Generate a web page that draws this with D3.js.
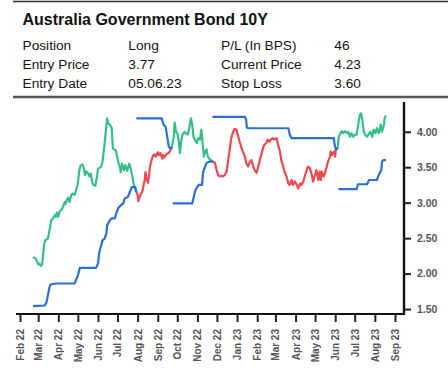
<!DOCTYPE html>
<html>
<head>
<meta charset="utf-8">
<script src="https://cdn.jsdelivr.net/npm/d3@7"></script>
<style>
  html, body { margin: 0; padding: 0; background: #fff; }
  svg { display: block; font-family: "Liberation Sans", Arial, Helvetica, sans-serif; }
</style>
</head>
<body>
<svg id="chart" width="448" height="375"></svg>
<script>
// ---- Data ----------------------------------------------------------------
const chartTitle = "Australia Government Bond 10Y";

const tableRows = [
  ["Position", "Long", "P/L (In BPS)", "46"],
  ["Entry Price", "3.77", "Current Price", "4.23"],
  ["Entry Date", "05.06.23", "Stop Loss", "3.60"]
];

// Position taken from each date onward
const positionChanges = [
  ["2022-02-21", "Long"],
  ["2022-07-30", "Short"],
  ["2022-09-23", "Long"],
  ["2022-11-25", "Short"],
  ["2023-06-05", "Long"]
];

// 10Y yield (%)
const yieldHistory = [
  ["2022-02-21", 2.23], ["2022-02-24", 2.22], ["2022-02-26", 2.20], ["2022-03-01", 2.13],
  ["2022-03-03", 2.14], ["2022-03-05", 2.11], ["2022-03-07", 2.13], ["2022-03-09", 2.30],
  ["2022-03-10", 2.41], ["2022-03-12", 2.47], ["2022-03-15", 2.49], ["2022-03-16", 2.50],
  ["2022-03-19", 2.64], ["2022-03-21", 2.75], ["2022-03-24", 2.78], ["2022-03-27", 2.83],
  ["2022-03-28", 2.80], ["2022-03-30", 2.86], ["2022-04-01", 2.80], ["2022-04-03", 2.88],
  ["2022-04-06", 2.90], ["2022-04-08", 2.94], ["2022-04-11", 3.01], ["2022-04-12", 2.98],
  ["2022-04-14", 3.04], ["2022-04-16", 3.07], ["2022-04-18", 3.01], ["2022-04-21", 3.11],
  ["2022-04-23", 3.13], ["2022-04-26", 3.11], ["2022-04-29", 3.20], ["2022-05-01", 3.27],
  ["2022-05-03", 3.44], ["2022-05-05", 3.52], ["2022-05-08", 3.54], ["2022-05-10", 3.49],
  ["2022-05-12", 3.39], ["2022-05-14", 3.44], ["2022-05-17", 3.41], ["2022-05-19", 3.37],
  ["2022-05-21", 3.41], ["2022-05-23", 3.29], ["2022-05-25", 3.25], ["2022-05-28", 3.24],
  ["2022-05-30", 3.34], ["2022-06-01", 3.48], ["2022-06-03", 3.49], ["2022-06-06", 3.51],
  ["2022-06-08", 3.58], ["2022-06-11", 3.82], ["2022-06-13", 4.00], ["2022-06-15", 4.19],
  ["2022-06-17", 4.12], ["2022-06-19", 4.10], ["2022-06-22", 4.06], ["2022-06-24", 3.76],
  ["2022-06-27", 3.75], ["2022-06-29", 3.72], ["2022-07-02", 3.58], ["2022-07-05", 3.49],
  ["2022-07-06", 3.43], ["2022-07-08", 3.55], ["2022-07-11", 3.46], ["2022-07-13", 3.53],
  ["2022-07-16", 3.45], ["2022-07-19", 3.55], ["2022-07-21", 3.49], ["2022-07-24", 3.37],
  ["2022-07-26", 3.25], ["2022-07-28", 3.22], ["2022-07-30", 3.15],
  ["2022-08-01", 3.11], ["2022-08-02", 3.02], ["2022-08-04", 3.08], ["2022-08-06", 3.12],
  ["2022-08-08", 3.15], ["2022-08-10", 3.24], ["2022-08-12", 3.32], ["2022-08-13", 3.43],
  ["2022-08-15", 3.32], ["2022-08-17", 3.28], ["2022-08-19", 3.42], ["2022-08-20", 3.51],
  ["2022-08-23", 3.62], ["2022-08-25", 3.67], ["2022-08-27", 3.68], ["2022-08-29", 3.65],
  ["2022-09-01", 3.71], ["2022-09-03", 3.67], ["2022-09-05", 3.70], ["2022-09-08", 3.62],
  ["2022-09-09", 3.67], ["2022-09-11", 3.64], ["2022-09-13", 3.67], ["2022-09-15", 3.69],
  ["2022-09-18", 3.70], ["2022-09-21", 3.75], ["2022-09-23", 3.79],
  ["2022-09-26", 3.96], ["2022-09-27", 4.13], ["2022-09-29", 4.00], ["2022-10-01", 3.98],
  ["2022-10-03", 3.89], ["2022-10-05", 3.70], ["2022-10-07", 3.86], ["2022-10-09", 3.96],
  ["2022-10-12", 4.00], ["2022-10-14", 3.98], ["2022-10-17", 3.96], ["2022-10-19", 4.03],
  ["2022-10-22", 4.19], ["2022-10-24", 4.10], ["2022-10-26", 3.93], ["2022-10-28", 3.89],
  ["2022-10-31", 3.84], ["2022-11-02", 3.91], ["2022-11-05", 3.89], ["2022-11-07", 4.03],
  ["2022-11-09", 3.84], ["2022-11-11", 3.65], ["2022-11-13", 3.72], ["2022-11-15", 3.75],
  ["2022-11-17", 3.65], ["2022-11-20", 3.61], ["2022-11-22", 3.60], ["2022-11-25", 3.58],
  ["2022-11-28", 3.56], ["2022-12-01", 3.44], ["2022-12-03", 3.39], ["2022-12-05", 3.37],
  ["2022-12-08", 3.38], ["2022-12-10", 3.37], ["2022-12-13", 3.39], ["2022-12-16", 3.44],
  ["2022-12-18", 3.58], ["2022-12-21", 3.77], ["2022-12-23", 3.91], ["2022-12-26", 4.00],
  ["2022-12-28", 4.04], ["2022-12-31", 4.03], ["2023-01-02", 3.96], ["2023-01-05", 3.86],
  ["2023-01-08", 3.77], ["2023-01-10", 3.72], ["2023-01-13", 3.65], ["2023-01-15", 3.56],
  ["2023-01-18", 3.51], ["2023-01-20", 3.56], ["2023-01-23", 3.60], ["2023-01-26", 3.51],
  ["2023-01-28", 3.46], ["2023-01-31", 3.42], ["2023-02-02", 3.49], ["2023-02-05", 3.60],
  ["2023-02-07", 3.67], ["2023-02-10", 3.77], ["2023-02-12", 3.82], ["2023-02-15", 3.84],
  ["2023-02-17", 3.89], ["2023-02-20", 3.86], ["2023-02-22", 3.89], ["2023-02-25", 3.91],
  ["2023-02-27", 3.89], ["2023-03-03", 3.91], ["2023-03-05", 3.82], ["2023-03-08", 3.72],
  ["2023-03-10", 3.60], ["2023-03-13", 3.51], ["2023-03-15", 3.44], ["2023-03-18", 3.37],
  ["2023-03-21", 3.27], ["2023-03-23", 3.25], ["2023-03-26", 3.32], ["2023-03-28", 3.25],
  ["2023-03-31", 3.30], ["2023-04-03", 3.25], ["2023-04-05", 3.20], ["2023-04-08", 3.27],
  ["2023-04-10", 3.25], ["2023-04-13", 3.30], ["2023-04-15", 3.37], ["2023-04-18", 3.46],
  ["2023-04-20", 3.51], ["2023-04-23", 3.49], ["2023-04-26", 3.39], ["2023-04-28", 3.30],
  ["2023-05-01", 3.39], ["2023-05-03", 3.46], ["2023-05-06", 3.32], ["2023-05-08", 3.44],
  ["2023-05-10", 3.32], ["2023-05-11", 3.44], ["2023-05-14", 3.37], ["2023-05-16", 3.41],
  ["2023-05-19", 3.51], ["2023-05-21", 3.58], ["2023-05-24", 3.65], ["2023-05-25", 3.72],
  ["2023-05-27", 3.67], ["2023-05-30", 3.72], ["2023-06-01", 3.65], ["2023-06-02", 3.75],
  ["2023-06-05", 3.77],
  ["2023-06-06", 3.91], ["2023-06-08", 3.96], ["2023-06-11", 4.01], ["2023-06-13", 3.98],
  ["2023-06-16", 4.01], ["2023-06-19", 3.98], ["2023-06-21", 4.00], ["2023-06-24", 3.93],
  ["2023-06-26", 3.98], ["2023-06-29", 3.93], ["2023-07-01", 3.96], ["2023-07-04", 3.96],
  ["2023-07-06", 4.08], ["2023-07-09", 4.24], ["2023-07-11", 4.26], ["2023-07-13", 4.15],
  ["2023-07-15", 4.00], ["2023-07-17", 3.96], ["2023-07-20", 3.93], ["2023-07-22", 3.96],
  ["2023-07-25", 4.00], ["2023-07-28", 3.93], ["2023-07-30", 4.03], ["2023-08-02", 3.98],
  ["2023-08-04", 4.05], ["2023-08-07", 3.98], ["2023-08-10", 4.10], ["2023-08-12", 4.00],
  ["2023-08-15", 4.10], ["2023-08-16", 4.19], ["2023-08-18", 4.23]
];

// Trailing stop levels; a null row separates one position's stop from the next
const stopLevels = [
  ["2022-02-21", 1.54], ["2022-03-11", 1.55], ["2022-03-14", 1.60], ["2022-03-16", 1.70],
  ["2022-03-19", 1.83], ["2022-03-21", 1.85], ["2022-03-29", 1.86], ["2022-04-26", 1.86],
  ["2022-04-29", 1.93], ["2022-05-01", 1.97], ["2022-05-04", 2.08], ["2022-05-29", 2.08],
  ["2022-06-01", 2.14], ["2022-06-03", 2.30], ["2022-06-06", 2.40], ["2022-06-08", 2.47],
  ["2022-06-11", 2.49], ["2022-06-14", 2.57], ["2022-06-15", 2.68], ["2022-06-19", 2.75],
  ["2022-06-22", 2.78], ["2022-06-27", 2.78], ["2022-06-29", 2.85], ["2022-07-02", 2.92],
  ["2022-07-07", 2.97], ["2022-07-10", 2.99], ["2022-07-12", 3.06], ["2022-07-17", 3.08],
  ["2022-07-20", 3.15], ["2022-07-23", 3.22], ["2022-07-28", 3.22], ["2022-07-30", 3.15],
  null,
  ["2022-07-30", 4.19], ["2022-09-07", 4.19], ["2022-09-10", 4.10], ["2022-09-13", 4.07],
  ["2022-09-15", 3.96], ["2022-09-18", 3.79], ["2022-09-21", 3.76], ["2022-09-23", 3.79],
  null,
  ["2022-09-24", 2.99], ["2022-10-24", 2.99], ["2022-10-27", 3.11], ["2022-10-29", 3.18],
  ["2022-11-03", 3.25], ["2022-11-08", 3.25], ["2022-11-10", 3.44], ["2022-11-15", 3.56],
  ["2022-11-20", 3.58], ["2022-11-25", 3.58],
  null,
  ["2022-11-24", 4.21], ["2023-01-13", 4.21], ["2023-01-15", 4.17], ["2023-01-16", 4.06],
  ["2023-01-18", 4.05], ["2023-03-21", 4.05], ["2023-03-23", 3.96], ["2023-03-26", 3.91],
  ["2023-05-30", 3.91], ["2023-05-31", 3.82], ["2023-06-02", 3.75], ["2023-06-05", 3.77],
  null,
  ["2023-06-06", 3.19], ["2023-07-04", 3.19], ["2023-07-06", 3.26], ["2023-07-20", 3.26],
  ["2023-07-23", 3.32], ["2023-08-04", 3.32], ["2023-08-07", 3.39], ["2023-08-11", 3.46],
  ["2023-08-12", 3.58], ["2023-08-14", 3.60], ["2023-08-18", 3.60]
];

const yTickValues = [1.5, 2.0, 2.5, 3.0, 3.5, 4.0];
const monthTickRange = ["2022-02-01", "2023-09-01"];

const positionColor = { Long: "#34bf87", Short: "#f2474d" };
const stopColor = "#2d6fd4";

// ---- Setup ---------------------------------------------------------------
const parse = d3.timeParse("%Y-%m-%d");
const svg = d3.select("#chart");

const prices = yieldHistory.map(([d, v]) => ({ date: parse(d), value: v }));
const stops = stopLevels.map(r => r ? { date: parse(r[0]), value: r[1] } : null);

const x = d3.scaleTime()
  .domain(monthTickRange.map(parse))
  .range([20, 395]);
const y = d3.scaleLinear()
  .domain([1.43, 4.42])
  .range([314, 102]);

const plot = { left: 16, right: 404, top: 102, bottom: 314 };

// ---- Header --------------------------------------------------------------
svg.append("line")
  .attr("x1", 13).attr("x2", 448).attr("y1", 1.5).attr("y2", 1.5)
  .attr("stroke", "#2a2a2a").attr("stroke-width", 1.4);

svg.append("text")
  .attr("x", 22.5).attr("y", 25)
  .attr("font-size", 16).attr("font-weight", "bold").attr("fill", "#111")
  .text(chartTitle);

const colX = [22.5, 128.3, 221, 334.3];
const rowY = [49.5, 68.5, 87.5];
tableRows.forEach((row, i) => {
  row.forEach((cell, j) => {
    svg.append("text")
      .attr("x", colX[j]).attr("y", rowY[i])
      .attr("font-size", 13.7).attr("fill", "#151515")
      .text(cell);
  });
});

svg.append("line")
  .attr("x1", 13).attr("x2", 448).attr("y1", 97).attr("y2", 97)
  .attr("stroke", "#555").attr("stroke-width", 2.4);

// ---- Series --------------------------------------------------------------
const line = d3.line()
  .defined(d => d !== null)
  .x(d => x(d.date))
  .y(d => y(d.value));

const segments = positionChanges.map(([start, pos], i) => {
  const s = parse(start);
  const e = i + 1 < positionChanges.length ? parse(positionChanges[i + 1][0]) : new Date(8640000000000000);
  return { pos, points: prices.filter(p => p.date >= s && p.date <= e) };
});

svg.append("g").selectAll("path")
  .data(segments)
  .join("path")
  .attr("d", d => line(d.points))
  .attr("fill", "none")
  .attr("stroke", d => positionColor[d.pos])
  .attr("stroke-width", 2.2)
  .attr("stroke-linejoin", "round");

svg.append("path")
  .attr("d", line(stops))
  .attr("fill", "none")
  .attr("stroke", stopColor)
  .attr("stroke-width", 2.2)
  .attr("stroke-linejoin", "round");

// ---- Axes ----------------------------------------------------------------
const months = d3.timeMonth.range(parse(monthTickRange[0]), d3.timeDay.offset(parse(monthTickRange[1]), 1));

const xAxis = svg.append("g")
  .attr("transform", `translate(0,${plot.bottom})`)
  .call(d3.axisBottom(x).tickValues(months).tickFormat(d3.timeFormat("%b %y")).tickSize(8));
xAxis.select(".domain").remove();
xAxis.selectAll(".tick line").attr("stroke", "#222").attr("stroke-width", 2);
xAxis.selectAll(".tick text")
  .attr("transform", "rotate(-90)")
  .attr("x", -15).attr("y", 0).attr("dy", "0.35em")
  .style("text-anchor", "end")
  .attr("font-family", null)
  .attr("font-size", 10).attr("font-weight", "bold").attr("fill", "#555");

const yAxis = svg.append("g")
  .attr("transform", `translate(${plot.right},0)`)
  .call(d3.axisRight(y).tickValues(yTickValues).tickFormat(d3.format(".2f")).tickSize(7).tickPadding(6));
yAxis.select(".domain").remove();
yAxis.selectAll(".tick line").attr("stroke", "#222").attr("stroke-width", 2);
yAxis.selectAll(".tick text")
  .attr("font-family", null)
  .attr("font-size", 10.5).attr("font-weight", "bold").attr("fill", "#555");

// axis rules
svg.append("line")
  .attr("x1", plot.left).attr("x2", plot.right + 1)
  .attr("y1", plot.bottom).attr("y2", plot.bottom)
  .attr("stroke", "#111").attr("stroke-width", 2.2);
svg.append("line")
  .attr("x1", plot.right).attr("x2", plot.right)
  .attr("y1", plot.top).attr("y2", plot.bottom + 1)
  .attr("stroke", "#111").attr("stroke-width", 2.4);
</script>
</body>
</html>
